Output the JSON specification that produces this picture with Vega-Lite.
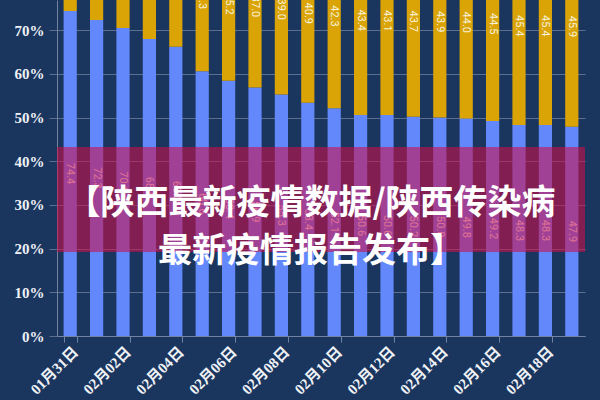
{
  "$schema": "https://vega.github.io/schema/vega-lite/v6.json",
  "width": 528,
  "height": 336,
  "autosize": {"type": "none"},
  "padding": {"left": 57, "top": 0, "right": 15, "bottom": 64},
  "background": "#1a365e",
  "config": {
    "view": {"stroke": null},
    "axis": {"title": null}
  },
  "datasets": {
    "shares": [
      {"date": "01月31日", "blue": 74.4, "gold": 19.4},
      {"date": "02月01日", "blue": 72.3, "gold": 21.5},
      {"date": "02月02日", "blue": 70.5, "gold": 23.3},
      {"date": "02月03日", "blue": 68.0, "gold": 25.8},
      {"date": "02月04日", "blue": 66.2, "gold": 27.6},
      {"date": "02月05日", "blue": 60.6, "gold": 33.3},
      {"date": "02月06日", "blue": 58.4, "gold": 35.2},
      {"date": "02月07日", "blue": 56.9, "gold": 37.0},
      {"date": "02月08日", "blue": 55.3, "gold": 39.0},
      {"date": "02月09日", "blue": 53.4, "gold": 40.9},
      {"date": "02月10日", "blue": 52.1, "gold": 42.3},
      {"date": "02月11日", "blue": 50.6, "gold": 43.4},
      {"date": "02月12日", "blue": 50.6, "gold": 43.1},
      {"date": "02月13日", "blue": 50.2, "gold": 43.7},
      {"date": "02月14日", "blue": 50.0, "gold": 43.9},
      {"date": "02月15日", "blue": 49.8, "gold": 44.0},
      {"date": "02月16日", "blue": 49.2, "gold": 44.5},
      {"date": "02月17日", "blue": 48.3, "gold": 45.4},
      {"date": "02月18日", "blue": 48.3, "gold": 45.4},
      {"date": "02月19日", "blue": 47.9, "gold": 45.9}
    ]
  },
  "data": {"name": "shares"},
  "layer": [
    {
      "transform": [{"fold": ["blue", "gold"], "as": ["series", "value"]}],
      "mark": {"type": "bar", "clip": true},
      "encoding": {
        "x": {
          "field": "date", "type": "ordinal", "sort": null,
          "scale": {"paddingInner": 0.5, "paddingOuter": 0.25},
          "axis": {
            "values": ["01月31日", "02月02日", "02月04日", "02月06日", "02月08日", "02月10日", "02月12日", "02月14日", "02月16日", "02月18日"],
            "labelAngle": -45,
            "labelFont": "Liberation Serif, Noto Sans CJK SC",
            "labelFontWeight": "bold",
            "labelFontSize": 15,
            "labelColor": "#eef1f6",
            "labelPadding": 2,
            "domainColor": "#7483a0",
            "tickColor": "#7483a0",
            "tickSize": 6,
            "tickBand": "extent",
            "grid": false
          }
        },
        "y": {
          "field": "value", "type": "quantitative", "stack": "zero",
          "scale": {"domain": [0, 76.9], "nice": false, "zero": true},
          "axis": {
            "values": [0, 10, 20, 30, 40, 50, 60, 70],
            "labelExpr": "datum.value + '%'",
            "labelFont": "Liberation Serif",
            "labelFontWeight": "bold",
            "labelFontSize": 15,
            "labelColor": "#eef1f6",
            "labelPadding": 5,
            "domainColor": "#7483a0",
            "tickColor": "#5d6f8e",
            "tickSize": 8,
            "grid": true,
            "gridColor": "#5d6f8e",
            "gridWidth": 1
          }
        },
        "color": {
          "field": "series", "type": "nominal",
          "scale": {"domain": ["blue", "gold"], "range": ["#6288fc", "#daa406"]},
          "legend": null
        },
        "order": {"field": "series", "sort": "ascending"}
      }
    },
    {
      "mark": {"type": "text", "angle": 90, "align": "center", "baseline": "middle", "font": "Roboto", "fontSize": 11, "color": "#f4f4f4"},
      "encoding": {
        "x": {"field": "date", "type": "ordinal", "sort": null},
        "y": {"field": "blue", "type": "quantitative", "scale": {"domain": [0, 153.8], "nice": false}, "axis": null},
        "text": {"field": "blue", "type": "quantitative", "format": ".1f"}
      }
    },
    {
      "transform": [
        {"fold": ["blue", "blue", "gold"], "as": ["part", "amount"]},
        {"aggregate": [{"op": "sum", "field": "amount", "as": "labelPos"}], "groupby": ["date", "gold"]}
      ],
      "mark": {"type": "text", "angle": 90, "align": "center", "baseline": "middle", "font": "Roboto", "fontSize": 11, "color": "#f7f2dc"},
      "encoding": {
        "x": {"field": "date", "type": "ordinal", "sort": null},
        "y": {"field": "labelPos", "type": "quantitative", "scale": {"domain": [0, 153.8], "nice": false}, "axis": null},
        "text": {"field": "gold", "type": "quantitative", "format": ".1f"}
      }
    },
    {
      "data": {"values": [{"band": "banner"}]},
      "mark": {"type": "rect", "color": "#d10c48", "opacity": 0.57},
      "encoding": {
        "y": {"datum": 43.25, "type": "quantitative", "scale": {"domain": [0, 76.9], "nice": false}, "axis": null},
        "y2": {"datum": 19.2}
      }
    },
    {
      "data": {"values": [{"headline": "banner"}]},
      "mark": {"type": "text", "align": "center", "baseline": "middle", "font": "Noto Sans CJK SC", "fontWeight": "bold", "fontSize": 34, "lineHeight": 48, "color": "#ffffff", "dx": -10},
      "encoding": {
        "y": {"datum": 30.1, "type": "quantitative", "scale": {"domain": [0, 76.9], "nice": false}, "axis": null},
        "text": {"value": ["【陕西最新疫情数据/陕西传染病", "最新疫情报告发布】"]}
      }
    }
  ],
  "resolve": {"scale": {"y": "independent"}}
}
